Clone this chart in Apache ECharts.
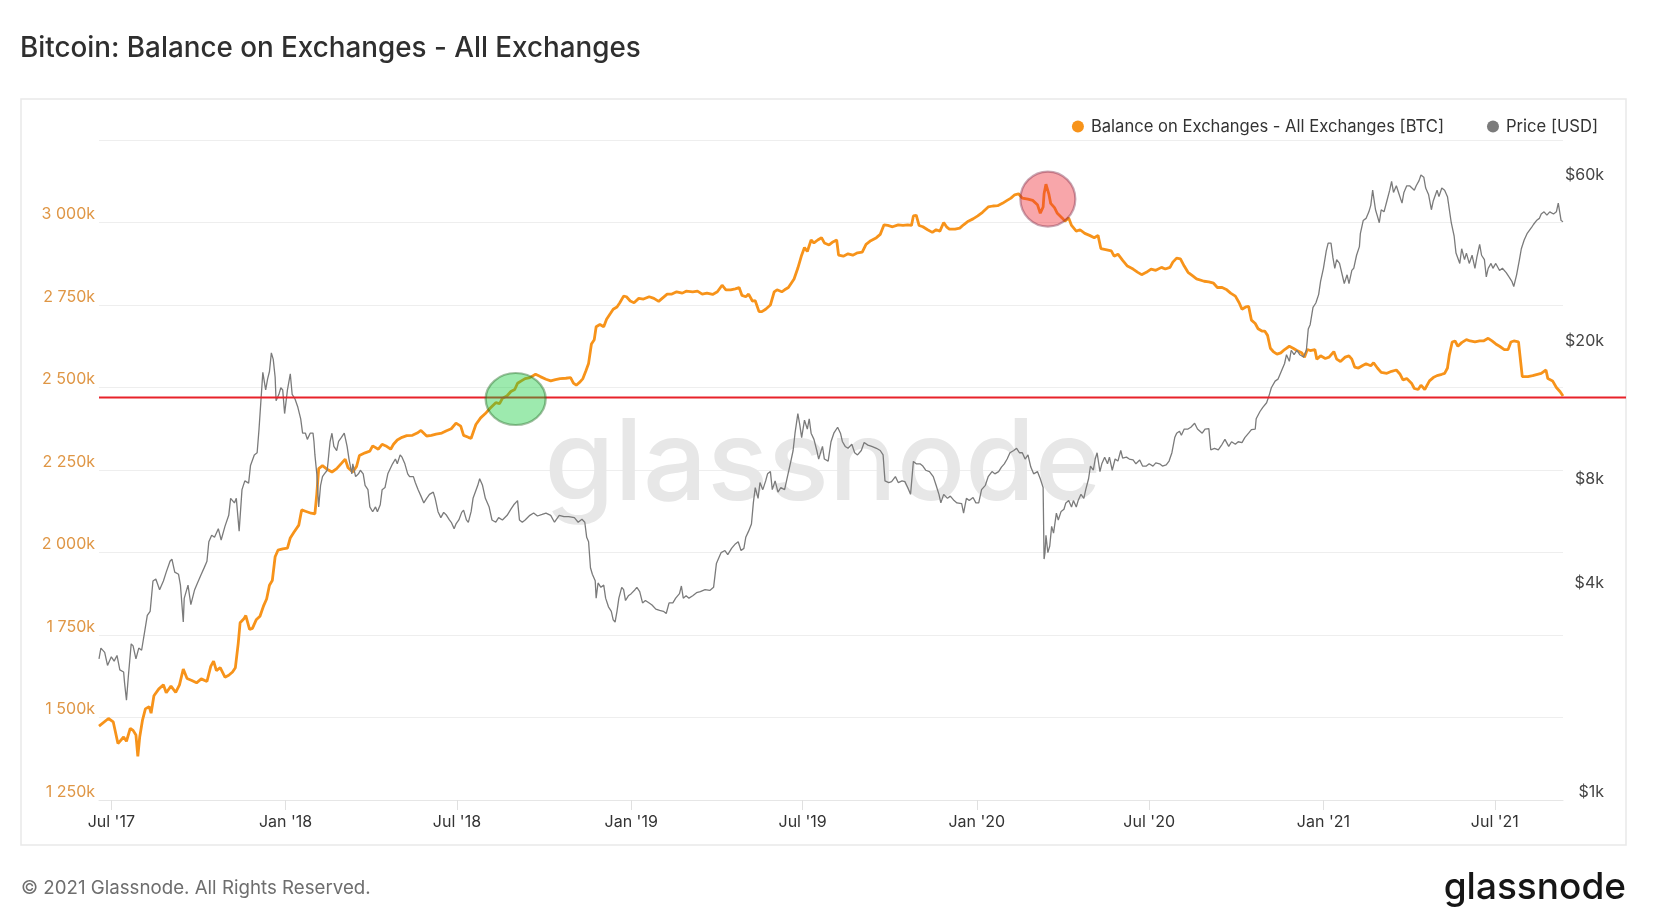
<!DOCTYPE html>
<html>
<head>
<meta charset="utf-8">
<script src="https://cdn.jsdelivr.net/npm/echarts@6/dist/echarts.min.js"></script>
<style>
html,body{margin:0;padding:0;background:#fff;}
#main{width:1654px;height:918px;}
</style>
</head>
<body>
<div id="main"></div>
<script>
// ---------------- DATA ----------------
const titleText = 'Bitcoin: Balance on Exchanges - All Exchanges';
const balanceName = 'Balance on Exchanges - All Exchanges [BTC]';
const priceName = 'Price [USD]';

const xTickDates = ['2017-07-01','2018-01-01','2018-07-01','2019-01-01','2019-07-01','2020-01-01','2020-07-01','2021-01-01','2021-07-01'];
const balanceTicksK = [1250,1500,1750,2000,2250,2500,2750,3000,3250];
const priceTicks = [1000,4000,8000,20000,60000];

const balanceDates = ['2017-06-18','2017-06-28','2017-07-03','2017-07-08','2017-07-14','2017-07-17','2017-07-21','2017-07-24','2017-07-27','2017-07-29','2017-07-31','2017-08-03','2017-08-06','2017-08-10','2017-08-12','2017-08-15','2017-08-20','2017-08-25','2017-08-28','2017-09-02','2017-09-07','2017-09-11','2017-09-15','2017-09-19','2017-09-24','2017-09-29','2017-10-04','2017-10-10','2017-10-14','2017-10-17','2017-10-20','2017-10-24','2017-10-29','2017-11-02','2017-11-06','2017-11-09','2017-11-12','2017-11-14','2017-11-18','2017-11-20','2017-11-24','2017-11-27','2017-12-01','2017-12-05','2017-12-09','2017-12-12','2017-12-15','2017-12-18','2017-12-21','2017-12-24','2017-12-29','2018-01-03','2018-01-06','2018-01-10','2018-01-15','2018-01-18','2018-01-22','2018-01-28','2018-02-01','2018-02-03','2018-02-05','2018-02-09','2018-02-13','2018-02-19','2018-02-24','2018-03-01','2018-03-05','2018-03-08','2018-03-13','2018-03-17','2018-03-20','2018-03-26','2018-03-31','2018-04-03','2018-04-09','2018-04-13','2018-04-17','2018-04-22','2018-04-25','2018-04-29','2018-05-04','2018-05-09','2018-05-15','2018-05-20','2018-05-24','2018-05-30','2018-06-04','2018-06-09','2018-06-15','2018-06-20','2018-06-25','2018-06-30','2018-07-05','2018-07-08','2018-07-13',
'2018-07-16','2018-07-21','2018-07-26','2018-07-31','2018-08-05','2018-08-11','2018-08-15','2018-08-18','2018-08-23','2018-08-27','2018-08-31','2018-09-03','2018-09-07','2018-09-11','2018-09-16','2018-09-22','2018-09-27','2018-10-03','2018-10-08','2018-10-13','2018-10-18','2018-10-24','2018-10-29','2018-11-01','2018-11-04','2018-11-08','2018-11-11','2018-11-14','2018-11-17','2018-11-20','2018-11-23','2018-11-25','2018-11-29','2018-12-03','2018-12-06','2018-12-10','2018-12-13','2018-12-17','2018-12-20','2018-12-24','2018-12-27','2018-12-31','2019-01-04','2019-01-09','2019-01-14','2019-01-20','2019-01-25','2019-01-30','2019-02-03','2019-02-08','2019-02-13','2019-02-18','2019-02-24','2019-02-28','2019-03-07','2019-03-12','2019-03-17','2019-03-22','2019-03-28','2019-04-02','2019-04-07','2019-04-11','2019-04-16','2019-04-21','2019-04-25','2019-04-28','2019-05-02','2019-05-05','2019-05-09','2019-05-12','2019-05-16','2019-05-19','2019-05-23','2019-05-28','2019-06-01','2019-06-04','2019-06-09','2019-06-12','2019-06-16','2019-06-19','2019-06-22','2019-06-26','2019-06-30','2019-07-03','2019-07-06','2019-07-10','2019-07-13','2019-07-17','2019-07-21','2019-07-24','2019-07-29','2019-08-02',
'2019-08-06','2019-08-08','2019-08-13','2019-08-18','2019-08-23','2019-08-28','2019-09-02','2019-09-06','2019-09-11','2019-09-17','2019-09-21','2019-09-25','2019-09-29','2019-10-04','2019-10-10','2019-10-15','2019-10-20','2019-10-24','2019-10-26','2019-10-29','2019-11-01','2019-11-05','2019-11-10','2019-11-15','2019-11-19','2019-11-23','2019-11-27','2019-11-30','2019-12-03','2019-12-09','2019-12-14','2019-12-18','2019-12-23','2019-12-28','2020-01-02','2020-01-07','2020-01-13','2020-01-18','2020-01-23','2020-01-28','2020-02-02','2020-02-06','2020-02-10','2020-02-14','2020-02-18','2020-02-24','2020-02-29','2020-03-05','2020-03-08','2020-03-11','2020-03-12','2020-03-14','2020-03-17','2020-03-19','2020-03-23','2020-03-26','2020-03-31','2020-04-03','2020-04-07','2020-04-10','2020-04-15','2020-04-19','2020-04-24','2020-04-29','2020-05-04','2020-05-08','2020-05-11','2020-05-16','2020-05-22','2020-05-25','2020-05-29','2020-06-03','2020-06-08','2020-06-14','2020-06-19','2020-06-23','2020-06-28','2020-07-03','2020-07-08','2020-07-14','2020-07-18','2020-07-23','2020-07-26','2020-07-30','2020-08-03','2020-08-07','2020-08-11','2020-08-16','2020-08-20',
'2020-08-28','2020-09-02','2020-09-07','2020-09-11','2020-09-16','2020-09-21','2020-09-25','2020-09-30','2020-10-04','2020-10-07','2020-10-11','2020-10-14','2020-10-17','2020-10-21','2020-10-24','2020-10-28','2020-10-31','2020-11-03','2020-11-06','2020-11-09','2020-11-13','2020-11-17','2020-11-21','2020-11-26','2020-11-30','2020-12-04','2020-12-09','2020-12-12','2020-12-15','2020-12-18','2020-12-23','2020-12-25','2020-12-29','2021-01-03','2021-01-07','2021-01-12','2021-01-15','2021-01-19','2021-01-24','2021-01-28','2021-01-31','2021-02-03','2021-02-07','2021-02-11','2021-02-15','2021-02-20','2021-02-23','2021-02-27','2021-03-03','2021-03-09','2021-03-14','2021-03-19','2021-03-23','2021-03-26','2021-03-30','2021-04-04','2021-04-07','2021-04-11','2021-04-14','2021-04-18','2021-04-20','2021-04-23','2021-04-27','2021-05-01','2021-05-06','2021-05-09','2021-05-12','2021-05-14','2021-05-17','2021-05-20','2021-05-23','2021-05-27','2021-06-01','2021-06-05','2021-06-10','2021-06-15','2021-06-19','2021-06-24','2021-06-28','2021-07-02','2021-07-06','2021-07-11','2021-07-15','2021-07-18','2021-07-21','2021-07-26','2021-07-28','2021-07-30','2021-08-01','2021-08-05','2021-08-10','2021-08-15','2021-08-19','2021-08-24','2021-08-26','2021-08-31','2021-09-04','2021-09-08','2021-09-11'];

// thousands of BTC
const balanceK = [1474,1497,1487,1421,1441,1428,1467,1461,1447,1382,1441,1493,1526,1533,1513,1566,1586,1599,1575,1595,1576,1599,1647,1618,1612,1605,1617,1609,1655,1671,1642,1651,1622,1628,1638,1651,1724,1787,1799,1809,1767,1770,1796,1807,1840,1859,1901,1915,1987,2007,2011,2013,2044,2062,2083,2129,2125,2119,2117,2178,2254,2263,2254,2244,2254,2270,2283,2257,2244,2261,2294,2302,2307,2323,2313,2328,2323,2313,2328,2341,2349,2354,2355,2362,2370,2353,2355,2359,2362,2369,2375,2392,2383,2355,2349,
2346,2388,2408,2421,2437,2454,2451,2467,2475,2488,2494,2513,2520,2527,2530,2540,2533,2525,2520,2524,2527,2528,2530,2513,2507,2517,2527,2549,2573,2632,2645,2684,2691,2684,2707,2724,2737,2744,2757,2777,2775,2762,2757,2770,2768,2775,2770,2761,2771,2783,2783,2790,2786,2792,2790,2792,2783,2786,2782,2790,2810,2796,2796,2799,2803,2779,2775,2783,2762,2763,2730,2730,2737,2750,2790,2796,2790,2796,2803,2816,2829,2862,2901,2924,2912,2947,2938,2947,2954,2938,2932,2941,
2947,2901,2898,2905,2901,2908,2910,2934,2945,2954,2964,2993,2991,2987,2993,2991,2993,2991,3020,3022,2991,2987,2978,2970,2978,2974,3000,2987,2980,2980,2983,2993,3004,3011,3020,3031,3047,3050,3051,3058,3067,3074,3084,3087,3074,3071,3067,3054,3028,3047,3087,3116,3087,3058,3045,3028,3014,3004,3014,2991,2974,2978,2967,2961,2954,2961,2921,2918,2914,2898,2904,2885,2868,2859,2849,2842,2849,2859,2855,2864,2859,2864,2880,2892,2890,2868,2849,2838,2829,
2822,2820,2816,2803,2803,2796,2786,2777,2757,2737,2744,2746,2704,2694,2678,2671,2671,2658,2619,2609,2601,2605,2615,2625,2619,2612,2605,2592,2615,2612,2615,2586,2596,2588,2592,2609,2586,2579,2592,2596,2586,2562,2559,2566,2572,2566,2575,2559,2546,2543,2549,2553,2540,2523,2527,2513,2497,2494,2507,2494,2496,2520,2530,2536,2540,2543,2559,2599,2638,2641,2625,2636,2645,2641,2638,2641,2641,2649,2641,2632,2625,2615,2615,2638,2641,2638,2632,2533,2527,2533,2536,2540,2543,2553,2527,2520,2500,2487,2474];

const priceDates = ['2017-06-18','2017-06-20','2017-06-24','2017-06-27','2017-07-01','2017-07-04','2017-07-07','2017-07-10','2017-07-14','2017-07-15','2017-07-17','2017-07-19','2017-07-22','2017-07-24','2017-07-27','2017-07-30','2017-08-02','2017-08-05','2017-08-08','2017-08-11','2017-08-14','2017-08-17','2017-08-21','2017-08-25','2017-08-28','2017-09-01','2017-09-03','2017-09-06','2017-09-10','2017-09-12','2017-09-15','2017-09-16','2017-09-20','2017-09-23','2017-09-27','2017-09-30','2017-10-04','2017-10-07','2017-10-10','2017-10-12','2017-10-15','2017-10-18','2017-10-22','2017-10-25','2017-10-29','2017-11-02','2017-11-04','2017-11-08','2017-11-10','2017-11-13','2017-11-16','2017-11-19','2017-11-23','2017-11-25','2017-11-29','2017-12-02','2017-12-04','2017-12-06','2017-12-08','2017-12-11','2017-12-13','2017-12-15','2017-12-17','2017-12-19','2017-12-21','2017-12-22','2017-12-25','2017-12-27','2017-12-29','2017-12-31','2018-01-03','2018-01-06','2018-01-08','2018-01-11','2018-01-14','2018-01-17','2018-01-19','2018-01-22','2018-01-24','2018-01-27','2018-01-30','2018-01-31','2018-02-01','2018-02-03','2018-02-05','2018-02-07','2018-02-09','2018-02-11','2018-02-14','2018-02-17','2018-02-19','2018-02-21','2018-02-24','2018-02-26','2018-03-01','2018-03-04','2018-03-05','2018-03-07','2018-03-09','2018-03-12','2018-03-13','2018-03-16','2018-03-19','2018-03-21','2018-03-24','2018-03-26','2018-03-29','2018-03-31','2018-04-03','2018-04-06','2018-04-08','2018-04-11','2018-04-13','2018-04-16','2018-04-19','2018-04-21','2018-04-24','2018-04-27','2018-04-29','2018-05-02','2018-05-04','2018-05-07','2018-05-10','2018-05-12','2018-05-16','2018-05-18','2018-05-21','2018-05-24','2018-05-27','2018-05-30','2018-06-02','2018-06-06','2018-06-08','2018-06-11','2018-06-14','2018-06-17','2018-06-20','2018-06-23','2018-06-25','2018-06-28','2018-06-30','2018-07-03','2018-07-06','2018-07-08','2018-07-11','2018-07-13',
'2018-07-16','2018-07-18','2018-07-23','2018-07-25','2018-07-28','2018-07-31','2018-08-04','2018-08-07','2018-08-11','2018-08-14','2018-08-18','2018-08-23','2018-08-27','2018-08-30','2018-09-03','2018-09-05','2018-09-08','2018-09-11','2018-09-16','2018-09-20','2018-09-24','2018-09-29','2018-10-03','2018-10-08','2018-10-12','2018-10-17','2018-10-22','2018-10-27','2018-11-02','2018-11-06','2018-11-10','2018-11-13','2018-11-15','2018-11-17','2018-11-19','2018-11-21','2018-11-24','2018-11-25','2018-11-27','2018-11-30','2018-12-03','2018-12-05','2018-12-08','2018-12-11','2018-12-13','2018-12-15','2018-12-17','2018-12-19','2018-12-22','2018-12-24','2018-12-26','2018-12-29','2019-01-01','2019-01-05','2019-01-07','2019-01-10','2019-01-13','2019-01-16','2019-01-20','2019-01-23','2019-01-27','2019-01-31','2019-02-04','2019-02-07','2019-02-10','2019-02-14','2019-02-17','2019-02-21','2019-02-23','2019-02-25','2019-02-28','2019-03-03','2019-03-07','2019-03-11','2019-03-15','2019-03-20','2019-03-25','2019-03-29','2019-04-01','2019-04-03','2019-04-06','2019-04-10','2019-04-13','2019-04-17','2019-04-21','2019-04-24','2019-04-27','2019-04-30','2019-05-02','2019-05-05','2019-05-08','2019-05-10','2019-05-12','2019-05-15','2019-05-17','2019-05-20','2019-05-23','2019-05-25','2019-05-28','2019-05-30','2019-06-02','2019-06-05','2019-06-08','2019-06-12','2019-06-15','2019-06-18','2019-06-21','2019-06-23','2019-06-26','2019-06-28','2019-06-30','2019-07-03','2019-07-06','2019-07-08','2019-07-10','2019-07-13','2019-07-16','2019-07-18','2019-07-22','2019-07-24','2019-07-28','2019-07-31','2019-08-03',
'2019-08-07','2019-08-10','2019-08-12','2019-08-15','2019-08-18','2019-08-22','2019-08-25','2019-08-28','2019-09-01','2019-09-04','2019-09-08','2019-09-12','2019-09-17','2019-09-21','2019-09-24','2019-09-26','2019-09-30','2019-10-03','2019-10-07','2019-10-10','2019-10-14','2019-10-17','2019-10-20','2019-10-23','2019-10-24','2019-10-26','2019-10-29','2019-11-02','2019-11-05','2019-11-08','2019-11-12','2019-11-16','2019-11-19','2019-11-22','2019-11-24','2019-11-27','2019-12-01','2019-12-04','2019-12-08','2019-12-11','2019-12-16','2019-12-18','2019-12-21','2019-12-24','2019-12-28','2019-12-31','2020-01-03','2020-01-06','2020-01-10','2020-01-13','2020-01-17','2020-01-20','2020-01-24','2020-01-27','2020-01-30','2020-02-02','2020-02-05','2020-02-09','2020-02-12','2020-02-15','2020-02-18','2020-02-21','2020-02-24','2020-02-27','2020-03-01','2020-03-05','2020-03-08','2020-03-11','2020-03-12','2020-03-13','2020-03-14','2020-03-16','2020-03-18','2020-03-20','2020-03-22','2020-03-25','2020-03-27','2020-03-30','2020-04-02','2020-04-04','2020-04-07','2020-04-10','2020-04-12','2020-04-15','2020-04-17','2020-04-20','2020-04-23','2020-04-25','2020-04-28','2020-04-30','2020-05-03','2020-05-05','2020-05-07','2020-05-10','2020-05-12','2020-05-15','2020-05-18','2020-05-20','2020-05-23','2020-05-26','2020-05-29','2020-06-01','2020-06-03','2020-06-07','2020-06-10','2020-06-14','2020-06-17','2020-06-21','2020-06-24','2020-06-28','2020-07-01','2020-07-05','2020-07-08','2020-07-12','2020-07-15','2020-07-19','2020-07-22','2020-07-25','2020-07-28','2020-07-30','2020-08-02','2020-08-04','2020-08-07','2020-08-11','2020-08-14','2020-08-18','2020-08-21',
'2020-08-26','2020-08-29','2020-09-02','2020-09-04','2020-09-08','2020-09-12','2020-09-16','2020-09-19','2020-09-23','2020-09-26','2020-09-30','2020-10-03','2020-10-07','2020-10-10','2020-10-14','2020-10-17','2020-10-21','2020-10-22','2020-10-26','2020-10-29','2020-11-02','2020-11-05','2020-11-07','2020-11-11','2020-11-14','2020-11-18','2020-11-21','2020-11-23','2020-11-26','2020-11-28','2020-12-01','2020-12-04','2020-12-07','2020-12-11','2020-12-14','2020-12-16','2020-12-18','2020-12-21','2020-12-24','2020-12-27','2020-12-29','2021-01-01','2021-01-04','2021-01-06','2021-01-09','2021-01-11','2021-01-13','2021-01-15','2021-01-18','2021-01-20','2021-01-23','2021-01-26','2021-01-28','2021-01-31','2021-02-02','2021-02-05','2021-02-08','2021-02-09','2021-02-12','2021-02-15','2021-02-18','2021-02-20','2021-02-22','2021-02-25','2021-02-27','2021-03-01','2021-03-03','2021-03-06','2021-03-09','2021-03-12','2021-03-14','2021-03-16','2021-03-19','2021-03-22','2021-03-25','2021-03-27','2021-03-30','2021-04-02','2021-04-04','2021-04-07','2021-04-09','2021-04-12','2021-04-14','2021-04-17','2021-04-19','2021-04-22','2021-04-25','2021-04-27','2021-05-01','2021-05-03','2021-05-06','2021-05-09','2021-05-12','2021-05-14','2021-05-16','2021-05-19','2021-05-21','2021-05-23','2021-05-25','2021-05-27','2021-05-30','2021-06-01','2021-06-04','2021-06-07','2021-06-10','2021-06-12','2021-06-15','2021-06-17','2021-06-20','2021-06-22','2021-06-24','2021-06-27','2021-06-29','2021-07-02','2021-07-06','2021-07-09','2021-07-13','2021-07-16','2021-07-19','2021-07-21','2021-07-24','2021-07-27','2021-07-29','2021-08-01','2021-08-04','2021-08-06','2021-08-09','2021-08-11','2021-08-14','2021-08-17','2021-08-19','2021-08-22','2021-08-25','2021-08-28','2021-09-01','2021-09-04','2021-09-06','2021-09-09','2021-09-11'];

// USD
const priceUsd = [2552,2740,2665,2444,2588,2515,2611,2373,2340,2177,1939,2274,2820,2782,2552,2742,2703,3032,3405,3500,4280,4340,4040,4280,4540,4880,4950,4540,4475,4165,3260,3815,4165,3660,4040,4225,4475,4670,4880,5556,5800,5720,6060,5620,6150,6620,7410,7190,7410,5960,7850,8320,8195,9220,9886,10030,11740,11880,17100,15230,16350,17200,19460,18640,16560,14160,14780,15440,15230,13010,15230,16940,14770,14330,13560,12560,11420,11420,10960,11420,11420,10810,9886,8720,7000,8080,8560,8720,8930,10790,11418,10460,10180,10810,11100,11420,11570,10460,9620,8720,9320,8560,8720,8930,8720,8080,7850,7000,6780,7000,6780,7100,7850,7960,8720,8685,9320,9620,9320,9886,9740,9320,8720,8560,8560,8230,7850,7520,7190,7410,7610,7720,7410,6780,6520,6750,6620,6420,6320,6060,6250,6420,6750,6850,6420,6320,
6795,7410,8078,8440,8078,7410,6995,6418,6324,6520,6418,6620,6895,7100,7300,6418,6324,6418,6620,6720,6590,6660,6720,6620,6324,6620,6560,6560,6520,6324,6450,6324,5720,5556,4675,4475,4285,3820,4225,4105,4165,3820,3606,3500,3306,3260,3500,3820,4105,4040,3760,3880,3935,4040,4105,3990,3700,3760,3700,3650,3550,3520,3500,3450,3700,3700,3820,3935,4140,3820,3880,3820,3880,3960,3990,4040,4020,4105,4810,4950,5170,5240,5100,5315,5475,5556,5240,5315,5720,5960,6250,7190,7960,7410,8230,7850,8320,8720,8850,7850,8320,7720,7960,7850,8560,9320,10180,11420,13000,12090,11090,12450,11740,12570,11420,10960,10180,9620,10460,9620,9490,10790,11420,
11880,11420,10810,10460,10330,10610,10030,9886,10180,10730,10550,10460,10330,10180,9886,8320,8230,8280,8560,8230,8320,8280,7960,7610,7520,9470,9320,9320,9180,8930,8850,8560,8080,7610,7190,7610,7410,7520,7300,7190,7150,6720,7410,7300,7450,7190,7190,7850,8080,8560,8850,8720,8850,9120,9320,9620,10030,10180,10330,10030,10030,9620,9886,9120,8720,8850,8440,7960,4950,5170,5800,5170,5400,6150,5880,6720,6418,6795,6895,7190,7300,6995,7300,6995,7300,7610,7410,7850,8440,9180,8930,9620,10030,8850,9320,9740,9320,9740,8930,9620,9490,10180,9680,9740,9620,9560,9320,9560,9180,9180,9320,9180,9380,9320,9180,9250,9490,10030,11090,11420,11570,11260,11740,11740,11880,12200,11740,
11420,11740,11780,10230,10330,10230,10610,10960,10460,10790,10610,10790,10730,11090,11420,11690,11740,12570,13190,13560,13980,14780,15440,16140,16350,17350,18140,19230,18400,19810,19230,19810,19230,18940,19810,22800,23470,26330,27110,28710,31310,34130,38300,40340,40340,36690,34130,36160,35250,35250,30850,32690,30850,33650,34130,37220,39420,42960,46870,47540,49650,51840,57330,50350,48250,46190,50350,49650,53370,57330,60750,56490,59020,55720,52600,56490,59020,59020,59340,57330,59020,61100,63400,62500,58160,55720,50350,53370,57330,54920,58160,57330,54920,50350,46190,42360,37760,37760,35250,38860,36160,37760,35250,37220,34130,36690,40000,37220,36160,32220,34130,35250,34130,35250,33650,34130,33160,32220,31310,30240,32690,36160,38860,41170,42960,42960,44870,45730,46870,47540,48930,49650,48600,49650,48930,49650,52600,46870,46500];

// annotations
const redLevelK = 2470;
const highlightDates = ['2018-09-01','2020-03-16'];
const highlightK = [2465,3071];
const xStart = '2017-06-18';
const xEnd = '2021-09-11';
const priceAxisMax = 80000;

// ---------------- CHART ----------------
const FONT = 'Inter, "Noto Sans", Roboto, sans-serif';
const MONTHS = ['Jan','Feb','Mar','Apr','May','Jun','Jul','Aug','Sep','Oct','Nov','Dec'];
function toTs(s){ const p = s.split('-').map(Number); return new Date(p[0], p[1]-1, p[2]).getTime(); }
function fmtK(v){
  const th = Math.floor(v/1000), rest = v % 1000;
  return (th > 0 ? th + ' ' + String(rest).padStart(3,'0') : String(rest)) + 'k';
}

const chart = echarts.init(document.getElementById('main'), null, {renderer:'canvas', width:1654, height:918});

const option = {
  animation: false,
  backgroundColor: '#ffffff',
  textStyle: {fontFamily: FONT},
  title: {
    text: titleText, left: 20, top: 35, padding: 0,
    textStyle: {fontFamily: FONT, fontSize: 27.8, fontWeight: 500, color: '#2f2f2f'}
  },
  legend: {
    data: [balanceName, priceName],
    right: 56, top: 118, padding: 0,
    icon: 'circle', itemWidth: 12, itemHeight: 12, itemGap: 43,
    textStyle: {fontFamily: FONT, fontSize: 16.6, color: '#333333', padding: [0,0,0,2]}
  },
  grid: {left: 99, right: 91, top: 140, bottom: 118, containLabel: false},
  xAxis: {
    type: 'value',
    min: toTs(xStart), max: toTs(xEnd),
    axisLine: {show: true, lineStyle: {color: '#e6e6e6', width: 1}},
    axisTick: {show: true, customValues: xTickDates.map(toTs), length: 10, lineStyle: {color: '#e0e0e0'}},
    axisLabel: {
      customValues: xTickDates.map(toTs),
      formatter: function (v) { const d = new Date(v); return MONTHS[d.getMonth()] + " '" + String(d.getFullYear()).slice(2); },
      color: '#333333', fontSize: 16, fontFamily: FONT, margin: 14
    },
    splitLine: {show: false}
  },
  yAxis: [
    {
      type: 'value', position: 'left',
      min: balanceTicksK[0], max: balanceTicksK[balanceTicksK.length-1], interval: 250,
      axisLine: {show: false}, axisTick: {show: false},
      axisLabel: {formatter: fmtK, color: '#df9645', fontSize: 16, fontFamily: FONT, margin: 4, verticalAlign: 'bottom', showMaxLabel: false},
      splitLine: {show: true, lineStyle: {color: '#eeeeee', width: 1}}
    },
    {
      type: 'log', logBase: 10, position: 'right',
      min: priceTicks[0], max: priceAxisMax,
      axisLine: {show: false}, axisTick: {show: false}, splitLine: {show: false},
      axisLabel: {
        customValues: priceTicks,
        formatter: function (v) { return '$' + Math.round(v/1000) + 'k'; },
        color: '#444444', fontSize: 16, fontFamily: FONT, align: 'right', margin: 41, verticalAlign: 'bottom', padding: [0,0,0,0]
      }
    }
  ],
  series: [
    {
      name: balanceName, type: 'line', yAxisIndex: 0, z: 2,
      showSymbol: false, symbol: 'none',
      lineStyle: {color: '#f7931a', width: 2.8},
      itemStyle: {color: '#f7931a'},
      data: balanceDates.map(function (d, i) { return [toTs(d), balanceK[i]]; })
    },
    {
      name: priceName, type: 'line', yAxisIndex: 1, z: 3,
      showSymbol: false, symbol: 'none',
      lineStyle: {color: '#7b7b7b', width: 1.3},
      itemStyle: {color: '#7b7b7b'},
      data: priceDates.map(function (d, i) { return [toTs(d), priceUsd[i]]; })
    },
    {
      name: 'highlights', type: 'scatter', yAxisIndex: 0, z: 6, silent: true,
      data: [
        {value: [toTs(highlightDates[0]), highlightK[0]], symbolSize: [60, 52],
         itemStyle: {color: 'rgba(20,205,60,0.52)', borderColor: 'rgba(40,110,40,0.55)', borderWidth: 2.2}},
        {value: [toTs(highlightDates[1]), highlightK[1]], symbolSize: 55,
         itemStyle: {color: 'rgba(238,40,50,0.52)', borderColor: 'rgba(120,40,70,0.5)', borderWidth: 2.2}}
      ]
    }
  ]
};
chart.setOption(option);

const redY = chart.convertToPixel({yAxisIndex: 0}, redLevelK);
const plotLeft = chart.convertToPixel({xAxisIndex: 0}, toTs(xStart));

chart.setOption({
  graphic: [
    {type: 'rect', z: 0, silent: true, shape: {x: 21, y: 99, width: 1605, height: 746},
     style: {fill: 'none', stroke: '#e9e9e9', lineWidth: 1.5}},
    {type: 'text', z: 1, silent: true, x: 823, y: 466,
     style: {text: 'glassnode', font: '500 113px Inter, "Noto Sans", sans-serif', fill: '#e7e7e7', textAlign: 'center', textVerticalAlign: 'middle'}},
    {type: 'line', z: 5, silent: true, shape: {x1: plotLeft, y1: redY, x2: 1626, y2: redY},
     style: {stroke: '#e8222a', lineWidth: 2}},
    {type: 'text', silent: true, x: 21, y: 888,
     style: {text: '\u00a9 2021 Glassnode. All Rights Reserved.', font: '18.7px Inter, "Noto Sans", sans-serif', fill: '#6e6e6e', textAlign: 'left', textVerticalAlign: 'middle'}},
    {type: 'text', silent: true, x: 1626, y: 888,
     style: {text: 'glassnode', font: '500 37px Inter, "Noto Sans", sans-serif', fill: '#161616', textAlign: 'right', textVerticalAlign: 'middle'}}
  ]
});
</script>
</body>
</html>
